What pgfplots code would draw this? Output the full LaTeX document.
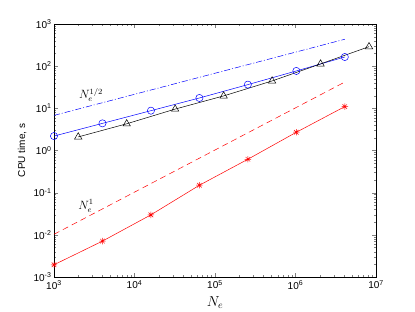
\documentclass[border=0pt]{standalone}
\usepackage{fontspec}
\setsansfont{Liberation Sans}
\usepackage{pgfplots}
\pgfplotsset{compat=1.18}
\pgfdeclareplotmark{matstar}{%
  \pgfpathmoveto{\pgfqpoint{-\pgfplotmarksize}{0pt}}\pgfpathlineto{\pgfqpoint{\pgfplotmarksize}{0pt}}%
  \pgfpathmoveto{\pgfqpoint{0pt}{-\pgfplotmarksize}}\pgfpathlineto{\pgfqpoint{0pt}{\pgfplotmarksize}}%
  \pgfpathmoveto{\pgfqpoint{-0.707\pgfplotmarksize}{-0.707\pgfplotmarksize}}\pgfpathlineto{\pgfqpoint{0.707\pgfplotmarksize}{0.707\pgfplotmarksize}}%
  \pgfpathmoveto{\pgfqpoint{-0.707\pgfplotmarksize}{0.707\pgfplotmarksize}}\pgfpathlineto{\pgfqpoint{0.707\pgfplotmarksize}{-0.707\pgfplotmarksize}}%
  \pgfusepathqstroke}
\begin{document}
\begin{tikzpicture}
\path[use as bounding box] (-54pt,-35pt) rectangle (361pt,277pt);
\begin{axis}[
  at={(0pt,0pt)}, anchor=south west,
  scale only axis, width=322pt, height=253pt,
  xmode=log, ymode=log,
  xmin=1e3, xmax=1e7, ymin=1e-3, ymax=1e3,
  xtick={1e3,1e4,1e5,1e6,1e7},
  xticklabels={10\textsuperscript{3},10\textsuperscript{4},10\textsuperscript{5},10\textsuperscript{6},10\textsuperscript{7}},
  ytick={1e-3,1e-2,1e-1,1e0,1e1,1e2,1e3},
  yticklabels={10\textsuperscript{-3},10\textsuperscript{-2},10\textsuperscript{-1},10\textsuperscript{0},10\textsuperscript{1},10\textsuperscript{2},10\textsuperscript{3}},
  tick label style={font=\sffamily\fontsize{10}{12}\selectfont},
  yticklabel style={xshift=1pt},
  tick align=inside,
  major tick length=4pt, minor tick length=2pt,
  axis line style={line width=0.6pt},
  xlabel={$N_e$},
  xlabel style={font=\fontsize{14}{16}\selectfont, at={(axis description cs:0.5,-0.1)}, anchor=center},
  ylabel={CPU time, s},
  ylabel style={font=\sffamily\fontsize{10}{12}\selectfont, at={(axis description cs:-0.099,0.5)}, anchor=center},
  clip=false,
]
\addplot[blue, dash pattern=on 6pt off 2pt on 1pt off 2pt, line width=0.5pt] coordinates {(1000,6.8) (4096000,435)};
\addplot[red, dash pattern=on 6pt off 4pt, line width=0.5pt] coordinates {(1000,0.0103) (4096000,42)};
\addplot[blue, line width=0.5pt, mark=o, mark size=3.6pt, mark options={solid}] coordinates {
(1000,2.2) (4000,4.4) (16000,8.8) (64000,17.6) (256000,36.5) (1024000,77) (4096000,165)};
\addplot[black, line width=0.5pt, mark=triangle, mark size=4.2pt, mark options={solid}] coordinates {
(2000,2.1) (8000,4.3) (32000,9.6) (128000,19.7) (512000,44.6) (2048000,113) (8192000,290)};
\addplot[red, line width=0.5pt, mark=matstar, mark size=3.2pt, mark options={solid}] coordinates {
(1000,0.00195) (4000,0.0071) (16000,0.0298) (64000,0.150) (256000,0.62) (1024000,2.71) (4096000,11)};
\node[font=\fontsize{12}{14}\selectfont, anchor=center, inner sep=0pt] at (axis cs:2880,20.8) {$N_e^{1/2}$};
\node[font=\fontsize{12}{14}\selectfont, anchor=center, inner sep=0pt] at (axis cs:2500,0.0487) {$N_e^{1}$};
\end{axis}
\end{tikzpicture}
\end{document}
